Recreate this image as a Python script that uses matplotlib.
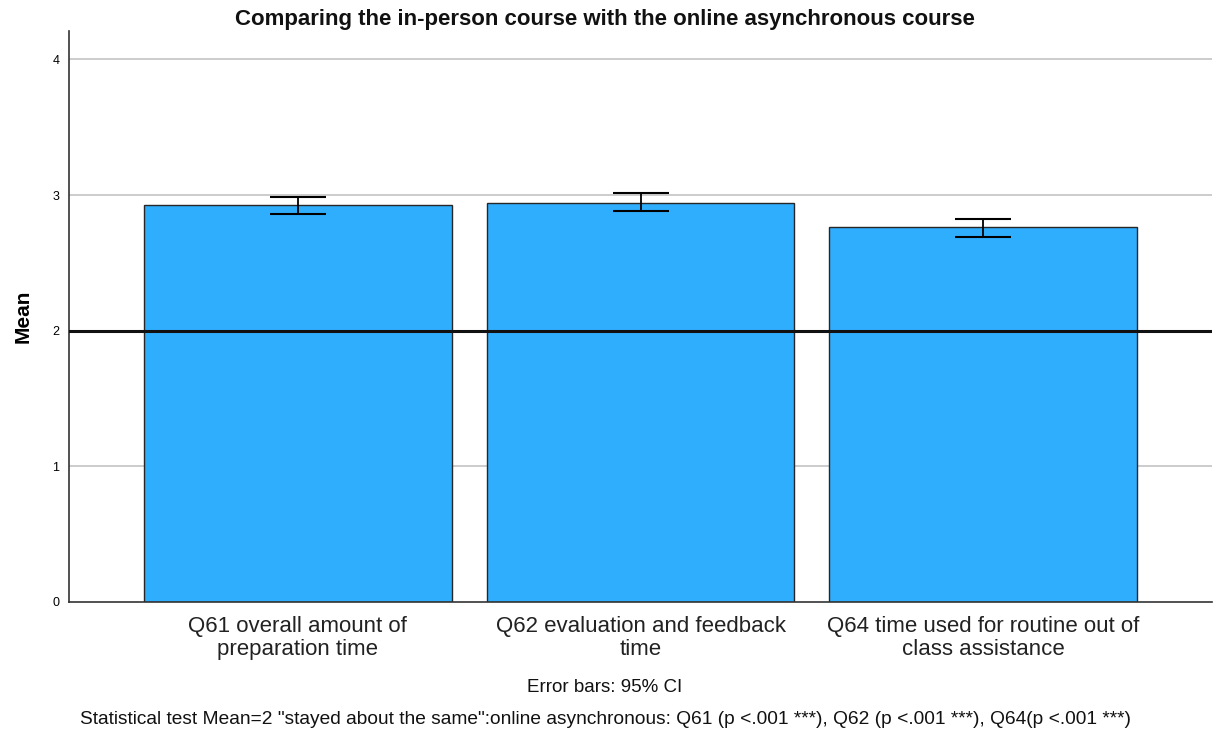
import matplotlib
matplotlib.use("Agg")
import matplotlib.pyplot as plt
import numpy as np

plt.rcParams['font.family'] = ['Liberation Sans', 'DejaVu Sans']

categories = ["Q61 overall amount of\npreparation time",
              "Q62 evaluation and feedback\ntime",
              "Q64 time used for routine out of\nclass assistance"]
means = [2.925, 2.945, 2.763]
ci_low = [2.859, 2.886, 2.694]
ci_high = [2.987, 3.018, 2.823]
y_ticks = [0, 1, 2, 3, 4]
ref_value = 2

title = "Comparing the in-person course with the online asynchronous course"
ylabel = "Mean"
note1 = "Error bars: 95% CI"
note2 = ('Statistical test Mean=2 "stayed about the same":online asynchronous: '
         'Q61 (p <.001 ***), Q62 (p <.001 ***), Q64(p <.001 ***)')

fig = plt.figure(figsize=(12.17, 7.33), dpi=100)
ax = fig.add_axes([69/1217, 1-602/733, (1212-69)/1217, (602-31)/733])

x = np.arange(len(categories))
m = np.array(means)
yerr = np.vstack([m - np.array(ci_low), np.array(ci_high) - m])

for yv in y_ticks[1:]:
    ax.axhline(yv, color='#c4c4c4', lw=1.2, zorder=0)

ax.bar(x, means, width=0.898, color='#30aefe', edgecolor='#262626',
       linewidth=1.0, zorder=2)
ax.errorbar(x, means, yerr=yerr, fmt='none', ecolor='black', elinewidth=1.3,
            capsize=20, capthick=1.5, zorder=4)
ax.axhline(ref_value, color='#111111', lw=2.2, zorder=5)

ax.set_xlim(-0.668, 2.668)
ax.set_ylim(0, 4.21)
ax.set_yticks(y_ticks)
ax.set_yticklabels([str(v) for v in y_ticks], fontsize=9)
ax.set_xticks(x)
ax.set_xticklabels(categories, fontsize=16, color='#222222', linespacing=1.15)
ax.tick_params(axis='both', length=0)
ax.tick_params(axis='y', pad=7)
ax.tick_params(axis='x', pad=10)

for s in ['top', 'right']:
    ax.spines[s].set_visible(False)
ax.spines['left'].set_color('#333333')
ax.spines['bottom'].set_color('#333333')
ax.spines['left'].set_linewidth(1.2)
ax.spines['bottom'].set_linewidth(1.2)

ax.set_ylabel(ylabel, fontsize=15, fontweight='bold', labelpad=14)

fig.text(605/1217, 1-19/733, title, ha='center', va='center', fontsize=16,
         fontweight='bold', color='#111111')
fig.text(605/1217, 1-688/733, note1, ha='center', va='center', fontsize=13.5,
         color='#111111')
fig.text(605/1217, 1-719/733, note2, ha='center', va='center', fontsize=13.8,
         color='#111111')

fig.savefig('out.png', dpi=100)
